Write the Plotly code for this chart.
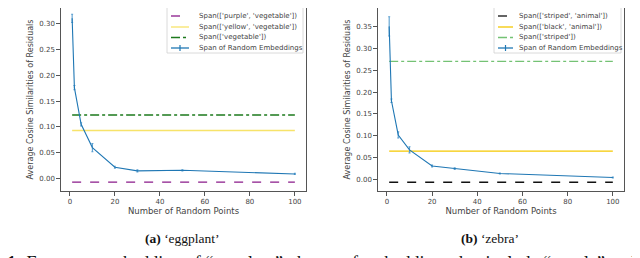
import plotly.graph_objects as go

# ---------------- data ----------------
n_points = [1, 2, 5, 10, 20, 30, 50, 100]

egg_mean = [0.310, 0.176, 0.105, 0.060, 0.022, 0.015, 0.016, 0.009]
egg_err = [0.008, 0.004, 0.003, 0.008, 0.002, 0.002, 0.001, 0.001]
egg_span_x = [1, 100]
egg_spans = {"Span(['purple', 'vegetable'])": -0.007,
             "Span(['yellow', 'vegetable'])": 0.093,
             "Span(['vegetable'])": 0.123}

zeb_mean = [0.350, 0.180, 0.102, 0.068, 0.031, 0.025, 0.014, 0.005]
zeb_err = [0.022, 0.004, 0.007, 0.007, 0.002, 0.002, 0.001, 0.001]
zeb_span_x = [1, 100]
zeb_spans = {"Span(['striped', 'animal'])": -0.006,
             "Span(['black', 'animal'])": 0.065,
             "Span(['striped'])": 0.270}

x_ticks = [0, 20, 40, 60, 80, 100]
egg_yticks = [0.00, 0.05, 0.10, 0.15, 0.20, 0.25, 0.30]
zeb_yticks = [0.00, 0.05, 0.10, 0.15, 0.20, 0.25, 0.30, 0.35]

# ---------------- styles ----------------
W, H = 640, 258
BLUE = "#1f77b4"
egg_styles = [("#8a1a8a", "dash"), ("#f7e36a", "solid"), ("#1d7a1d", "dashdot")]
zeb_styles = [("#111111", "dash"), ("#f5c800", "solid"), ("#74c274", "dashdot")]
FONT = "DejaVu Sans"
SERIF = "Liberation Serif, Times New Roman, serif"
TXT = "#444444"

def px(x):
    return x / W

def py(y):
    return 1 - y / H

fig = go.Figure()

def add_panel(xa, ya, mean, err, span_x, spans, styles):
    for (name, val), (col, dash) in zip(spans.items(), styles):
        fig.add_trace(go.Scatter(
            x=span_x, y=[val, val], mode="lines", name=name,
            line=dict(color=col, dash=dash, width=1.3),
            xaxis=xa, yaxis=ya, showlegend=False))
    fig.add_trace(go.Scatter(
        x=n_points, y=mean, mode="lines", name="Span of Random Embeddings",
        line=dict(color=BLUE, width=1.1),
        error_y=dict(type="data", array=err, visible=True,
                     color="#5a9fd0", thickness=1.1, width=1),
        xaxis=xa, yaxis=ya, showlegend=False))

add_panel("x", "y", egg_mean, egg_err, egg_span_x, egg_spans, egg_styles)
add_panel("x2", "y2", zeb_mean, zeb_err, zeb_span_x, zeb_spans, zeb_styles)

axis_common = dict(
    showgrid=False, zeroline=False, showline=True, linecolor="#555555",
    linewidth=1.3, mirror=True, ticks="outside", ticklen=3.5, tickwidth=0.8,
    tickcolor="#555555", tickfont=dict(family=FONT, size=7, color=TXT),
)

y_dom = [py(183), 1.0]
fig.update_layout(
    width=W, height=H, margin=dict(l=0, r=0, t=0, b=0),
    paper_bgcolor="white", plot_bgcolor="white", showlegend=False,
    xaxis=dict(domain=[px(53), px(298)], range=[-3.95, 104.95],
               tickvals=x_ticks,
               title=dict(text="Number of Random Points", standoff=3,
                          font=dict(family=FONT, size=8.5, color=TXT)),
               **axis_common),
    yaxis=dict(domain=y_dom, range=[-0.024, 0.330], tickvals=egg_yticks,
               tickformat=".2f",
               title=dict(text="Average Cosine Similarities of Residuals",
                          standoff=4,
                          font=dict(family=FONT, size=8, color=TXT)),
               **axis_common),
    xaxis2=dict(domain=[px(370), px(616)], range=[-3.95, 104.95],
                tickvals=x_ticks, anchor="y2",
                title=dict(text="Number of Random Points", standoff=3,
                           font=dict(family=FONT, size=8.5, color=TXT)),
                **axis_common),
    yaxis2=dict(domain=y_dom, range=[-0.026, 0.392], tickvals=zeb_yticks,
                tickformat=".2f", anchor="x2",
                title=dict(text="Average Cosine Similarities of Residuals",
                           standoff=4,
                           font=dict(family=FONT, size=8, color=TXT)),
                **axis_common),
)

# ---------------- manual legends (compact, matplotlib-like) ----------------
shapes = []
annotations = []

def add_legend(box_x0, box_x1, box_y1, samp_x0, samp_x1, text_x, rows,
               names, styles):
    shapes.append(dict(type="rect", xref="paper", yref="paper",
                       x0=px(box_x0), x1=px(box_x1), y0=py(box_y1), y1=py(-2),
                       line=dict(color="#d0d0d0", width=0.8),
                       fillcolor="rgba(255,255,255,0.85)", layer="above"))
    entries = list(zip(names, styles)) + [("Span of Random Embeddings",
                                            (BLUE, "solid"))]
    for i, ((name, (col, dash)), ry) in enumerate(zip(entries, rows)):
        shapes.append(dict(type="line", xref="paper", yref="paper",
                           x0=px(samp_x0), x1=px(samp_x1), y0=py(ry), y1=py(ry),
                           line=dict(color=col, dash=dash, width=1.3),
                           layer="above"))
        if i == len(entries) - 1:
            mid = (samp_x0 + samp_x1) / 2
            shapes.append(dict(type="line", xref="paper", yref="paper",
                               x0=px(mid), x1=px(mid), y0=py(ry - 3),
                               y1=py(ry + 3),
                               line=dict(color=BLUE, width=1.2), layer="above"))
        annotations.append(dict(text=name, xref="paper", yref="paper",
                                x=px(text_x), y=py(ry), xanchor="left",
                                yanchor="middle", showarrow=False,
                                font=dict(family=FONT, size=7, color=TXT)))

rows = [8, 19, 29.5, 40]
add_legend(159, 295, 45, 163, 181, 189, rows, list(egg_spans.keys()), egg_styles)
add_legend(486, 613, 45, 490, 505, 509, rows, list(zeb_spans.keys()), zeb_styles)

# ---------------- captions ----------------
annotations.append(dict(text="<b>(a)</b> ‘eggplant’", xref="paper", yref="paper",
                        x=px(174), y=py(230), xanchor="center", yanchor="middle",
                        showarrow=False,
                        font=dict(family=SERIF, size=13.5, color="#111111")))
annotations.append(dict(text="<b>(b)</b> ‘zebra’", xref="paper", yref="paper",
                        x=px(482), y=py(230), xanchor="center", yanchor="middle",
                        showarrow=False,
                        font=dict(family=SERIF, size=13.5, color="#111111")))
annotations.append(dict(
    text="<b>1:</b> For target embedding of “eggplant”, the set of embeddings "
         "that include “purple” and “yellow”",
    xref="paper", yref="paper", x=px(-3), y=py(255), xanchor="left",
    yanchor="middle", showarrow=False,
    font=dict(family=SERIF, size=18, color="#111111")))

fig.update_layout(shapes=shapes, annotations=annotations)

fig.write_html("out.html")
